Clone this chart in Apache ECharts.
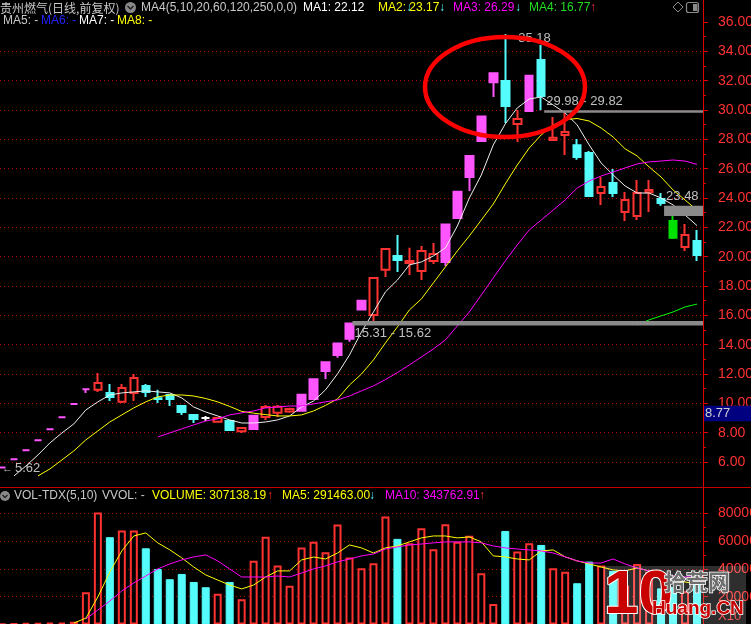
<!DOCTYPE html>
<html><head><meta charset="utf-8">
<script src="https://cdn.jsdelivr.net/npm/echarts@6/dist/echarts.min.js"></script>
<style>html,body{margin:0;padding:0;background:#000;}#c{width:751px;height:624px;}</style>
</head><body><div id="c"></div>
<script>
// ---------- data ----------
const opens = [5.62,6.18,6.80,7.48,8.23,9.05,9.96,10.96,10.92,10.71,
 10.10,10.71,11.19,10.35,10.57,9.82,9.21,9.00,8.75,8.80,
 8.10,8.25,9.07,9.35,9.45,9.50,10.30,12.20,13.30,14.40,
 16.40,16.03,19.10,20.05,19.57,19.03,19.70,19.64,22.64,25.43,
 27.89,31.90,31.98,29.05,29.93,33.41,27.95,28.30,27.60,27.07,
 24.34,25.02,23.05,22.78,24.40,23.93,22.43,20.66,21.07];
const closes = [5.62,6.18,6.80,7.48,8.23,9.05,9.96,10.96,11.39,10.44,
 11.05,11.73,10.78,10.30,10.30,9.41,8.94,9.00,9.00,8.19,
 8.32,9.15,9.75,9.76,9.62,10.58,11.64,12.80,14.08,15.45,
 17.00,18.55,20.53,19.78,19.70,20.39,20.18,22.20,24.42,26.86,
 29.55,32.50,30.27,29.39,32.33,30.96,28.10,28.50,26.80,24.14,
 24.75,24.34,23.87,24.34,24.55,23.66,21.29,21.48,20.12];
const lows = [5.62,6.18,6.80,7.48,8.23,9.05,9.96,10.70,10.78,10.16,
 10.03,10.16,10.44,10.03,9.82,9.21,8.66,8.80,8.70,8.12,
 7.98,8.20,8.87,9.07,9.35,9.50,10.30,11.66,13.10,14.20,
 16.40,15.60,18.62,18.96,18.75,18.41,19.50,19.37,22.60,24.48,
 27.89,30.89,29.11,27.82,29.90,29.98,27.95,26.93,26.60,24.07,
 23.53,24.07,22.43,22.50,23.05,23.48,21.20,20.39,19.71];
const highs = [5.62,6.18,6.80,7.48,8.23,9.05,9.96,10.96,12.07,11.32,
 11.32,12.00,11.32,10.92,10.60,9.85,9.21,9.14,9.02,8.85,
 8.35,9.15,9.89,9.89,9.70,10.58,11.64,12.80,14.08,15.45,
 17.00,18.60,20.55,21.48,20.60,20.73,20.94,22.20,24.42,26.86,
 29.55,32.50,35.18,30.00,32.33,34.43,29.52,29.82,28.02,27.20,
 25.43,25.98,24.41,25.23,25.23,24.34,22.78,22.23,21.82];
const limitUpDays = [0,1,2,3,4,5,6,7,21,25,26,27,28,29,30,37,38,39,40,41,44];
const limitDownDays = [56];

const ma1 = [null,5.05,5.73,6.48,7.30,7.98,8.60,9.55,10.10,10.57,
 10.71,10.78,10.85,10.78,10.71,10.37,9.75,9.41,9.14,8.87,
 8.66,8.66,8.73,8.87,9.14,9.75,10.16,10.92,12.01,13.30,
 14.87,16.23,17.60,18.41,19.44,19.64,20.05,20.59,22.09,24.00,
 25.57,27.62,29.05,30.14,30.75,30.89,30.34,29.80,28.98,27.62,
 26.39,25.57,24.82,24.34,24.34,24.00,23.53,22.84,22.12];
const ma2 = [null,null,null,5.05,5.53,6.14,6.76,7.51,8.12,8.73,
 9.21,9.69,10.10,10.44,10.57,10.57,10.50,10.33,10.10,9.79,
 9.45,9.33,9.23,9.14,9.14,9.21,9.48,9.86,10.30,11.25,
 12.00,12.96,14.12,15.21,16.37,17.12,18.21,19.30,20.39,21.41,
 22.50,23.59,24.96,26.25,27.41,28.30,28.98,29.35,29.42,29.25,
 28.77,28.16,27.35,26.87,26.12,25.43,24.55,23.87,23.17];
const ma3 = [null,null,null,null,null,null,null,null,null,null,
 null,null,null,7.71,7.98,8.26,8.53,8.80,8.94,9.21,
 9.35,9.48,9.69,9.75,9.82,9.82,9.96,10.10,10.23,10.50,
 10.85,11.19,11.62,12.10,12.62,13.16,13.71,14.32,15.28,16.23,
 17.39,18.55,19.71,20.80,21.82,22.50,23.18,23.87,24.68,25.16,
 25.50,25.77,26.05,26.32,26.46,26.52,26.59,26.52,26.29];
const ma4 = [null,null,null,null,null,null,null,null,null,null,
 null,null,null,null,null,null,null,null,null,null,
 null,null,null,null,null,null,null,null,null,null,
 null,null,null,null,null,null,null,null,null,null,
 null,null,null,null,null,null,null,null,null,null,
 null,null,null,15.34,15.69,15.96,16.23,16.57,16.77];

const volumes = [300,500,1100,1100,1200,1200,1900,23200,83800,62900,
 67700,67700,54900,40000,32600,36400,30600,26800,22200,30600,
 18100,46000,63300,42400,27900,55400,59700,52000,72000,48200,
 40500,44100,77800,61700,58500,69400,54200,72300,59700,64000,
 36900,14700,67400,52500,58500,57300,40500,38000,29700,45300,
 42400,38600,28100,43600,38000,26000,27000,24000,30714];
const volMa5 = [null,null,null,null,null,null,1000,4500,19800,37800,
 53000,63800,66000,58800,53800,48000,41400,35700,32000,28400,
 25600,28400,34200,38600,38600,46500,48600,47200,51500,57300,
 55200,51500,55200,56600,59500,62400,63800,63800,62400,63100,
 59500,49400,48700,47200,46500,53000,53700,48700,45800,43600,
 41400,39300,38600,40700,38600,34900,32000,30600,29146];
const volMa10 = [null,null,null,null,null,null,null,3900,10400,16900,
 24100,29900,34900,40000,43600,46500,48700,50100,45800,40000,
 34200,34200,34200,34900,34200,37100,40000,42200,45100,47200,
 49400,50800,54400,55900,57300,58000,58800,59500,59500,59500,
 58800,56600,55200,54400,53700,53000,51500,48700,45800,44300,
 44300,47200,43600,40700,38600,36400,34900,34200,34376];

const priceTicks = [6, 36, 2];          // min, max, step
const volTicks = [0, 80000, 20000];
const maHeader = [22.12, 23.17, 26.29, 16.77];
const volHeader = ['307138.19', '291463.00', '343762.91'];
const gapLow = [15.31, 29.82, 22.78];
const gapHigh = [15.62, 29.98, 23.48];
const gapFrom = [29, 45, 55];
const gapLabel = ['15.31 - 15.62', '29.98 - 29.82', '23.48'];
const gapLabelSide = ['below', 'above', 'above'];
const cursorPrice = 8.77;

// ---------- styles ----------
const RED = '#FF3232', CYAN = '#54FCFC', PINK = '#FF55FF', GREEN = '#00E000', WHITE = '#FFFFFF';
const AX = '#E00000', LBL = '#FF3232', GRAY = '#C0C0C0';
const NARROW = "'Liberation Sans Narrow','Liberation Sans',sans-serif";
const SANS = "'Liberation Sans',sans-serif";
const CJK = "'Noto Sans CJK SC',sans-serif";

const N = opens.length;
const days = Array.from({length: N}, (_, i) => 'D' + (i + 1));

function kind(i) {
  if (limitUpDays.includes(i)) return 'lu';
  if (limitDownDays.includes(i)) return 'ld';
  if (closes[i] > opens[i]) return 'up';
  if (closes[i] < opens[i]) return 'dn';
  return 'doji';
}
const kFill = {lu: PINK, ld: GREEN, up: '#000000', dn: CYAN, doji: WHITE};
const kLine = {lu: PINK, ld: GREEN, up: RED, dn: CYAN, doji: WHITE};

const candleData = opens.map((o, i) => {
  const k = kind(i);
  return {value: [o, closes[i], lows[i], highs[i]],
    itemStyle: {color: kFill[k], color0: kFill[k], borderColor: kLine[k], borderColor0: kLine[k], borderColorDoji: kLine[k]}};
});
const volData = volumes.map((v, i) => {
  const k = kind(i);
  const redBar = (k === 'lu' || k === 'up');
  return {value: v, itemStyle: redBar
    ? {color: '#000000', borderColor: RED, borderWidth: 2}
    : {color: CYAN, borderColor: CYAN, borderWidth: 1}};
});

const splitDots = {color: '#B00000', width: 1, type: [1, 3]};

const chart = echarts.init(document.getElementById('c'));
const option = {
  backgroundColor: '#000000',
  animation: false,
  grid: [
    {left: -4, right: 48, top: 22, height: 440, outerBoundsMode: 'none'},
    {left: -4, right: 48, top: 513.5, height: 110.9, outerBoundsMode: 'none'}
  ],
  xAxis: [
    {type: 'category', data: days, gridIndex: 0, show: false, boundaryGap: true},
    {type: 'category', data: days, gridIndex: 1, show: false, boundaryGap: true}
  ],
  yAxis: [
    {type: 'value', gridIndex: 0, position: 'right', min: priceTicks[0], max: priceTicks[1], interval: priceTicks[2],
     axisLine: {show: false},
     axisTick: {show: true, length: 5, lineStyle: {color: AX}},
     minorTick: {show: true, splitNumber: 2, length: 3, lineStyle: {color: AX}},
     axisLabel: {color: LBL, fontSize: 14, fontFamily: NARROW, margin: 15, showMinLabel: true, showMaxLabel: true,
       formatter: v => v.toFixed(2)},
     splitLine: {show: true, showMaxLine: false, showMinLine: true, lineStyle: splitDots}},
    {type: 'value', gridIndex: 1, position: 'right', min: volTicks[0], max: volTicks[1], interval: volTicks[2],
     axisLine: {show: false},
     axisTick: {show: true, length: 5, lineStyle: {color: AX}},
     minorTick: {show: true, splitNumber: 2, length: 3, lineStyle: {color: AX}},
     axisLabel: {color: LBL, fontSize: 14, fontFamily: NARROW, margin: 15, showMinLabel: false, showMaxLabel: true,
       formatter: v => String(v)},
     splitLine: {show: true, showMaxLine: true, showMinLine: false, lineStyle: splitDots}}
  ],
  series: [
    {type: 'candlestick', xAxisIndex: 0, yAxisIndex: 0, data: candleData, barWidth: 8, clip: false,
     itemStyle: {borderWidth: 2}},
    {type: 'line', xAxisIndex: 0, yAxisIndex: 0, data: ma1, showSymbol: false, clip: false, connectNulls: false,
     lineStyle: {color: '#EEEEEE', width: 1}},
    {type: 'line', xAxisIndex: 0, yAxisIndex: 0, data: ma2, showSymbol: false, clip: false,
     lineStyle: {color: '#FFFF00', width: 1}},
    {type: 'line', xAxisIndex: 0, yAxisIndex: 0, data: ma3, showSymbol: false, clip: false,
     lineStyle: {color: '#FF00FF', width: 1}},
    {type: 'line', xAxisIndex: 0, yAxisIndex: 0, data: ma4, showSymbol: false, clip: false,
     lineStyle: {color: '#00FF00', width: 1}},
    {type: 'bar', xAxisIndex: 1, yAxisIndex: 1, data: volData, barWidth: 8},
    {type: 'line', xAxisIndex: 1, yAxisIndex: 1, data: volMa5, showSymbol: false,
     lineStyle: {color: '#FFFF00', width: 1}},
    {type: 'line', xAxisIndex: 1, yAxisIndex: 1, data: volMa10, showSymbol: false,
     lineStyle: {color: '#FF00FF', width: 1}}
  ]
};
chart.setOption(option);

// ---------- annotations ----------
const P = (i, v) => chart.convertToPixel({gridIndex: 0}, [i, v]);
const g = [];
function txt(t, x, y, fill, font, extra) {
  g.push(Object.assign({type: 'text', z: 50, silent: true,
    style: Object.assign({text: t, x: x, y: y, fill: fill, font: font,
      align: 'left', verticalAlign: 'middle', textAlign: 'left', textVerticalAlign: 'middle'}, extra || {})}));
}
const axisX = P(0, 0)[0] + 0; // placeholder
const rightEdge = 751 - 48;

// separators
g.push({type: 'line', z: 40, silent: true, shape: {x1: rightEdge + 0.5, y1: 0, x2: rightEdge + 0.5, y2: 624}, style: {stroke: AX, lineWidth: 1}});
g.push({type: 'line', z: 40, silent: true, shape: {x1: 0, y1: 487.5, x2: 751, y2: 487.5}, style: {stroke: '#C80000', lineWidth: 1}});

// gap bands
for (let k = 0; k < gapLow.length; k++) {
  const a = P(gapFrom[k], gapHigh[k]);
  const b = P(gapFrom[k], gapLow[k]);
  const x0 = a[0] + 3;
  const h = Math.max(2.5, b[1] - a[1]);
  g.push({type: 'rect', z: 30, silent: true, shape: {x: x0, y: a[1], width: rightEdge - x0, height: h}, style: {fill: '#8A8A8A'}});
  const ly = gapLabelSide[k] === 'above' ? a[1] - 9 : a[1] + h + 8;
  txt(gapLabel[k], x0 + 2, ly, GRAY, '13px ' + NARROW);
}

// high / low markers
let hiI = 0, loI = 0;
highs.forEach((v, i) => { if (v > highs[hiI]) hiI = i; });
lows.forEach((v, i) => { if (v < lows[loI]) loI = i; });
const hp = P(hiI, highs[hiI]);
txt(highs[hiI].toFixed(2), hp[0] + 13, hp[1] + 4, GRAY, '13px ' + NARROW);
const lp = P(loI, lows[loI]);
txt('\u2190', lp[0], lp[1] + 1, GRAY, '11px ' + SANS);
txt(lows[loI].toFixed(2), lp[0] + 13, lp[1] + 1, GRAY, '13px ' + NARROW);

// cursor price box
const cp = P(0, cursorPrice);
g.push({type: 'rect', z: 45, silent: true, shape: {x: rightEdge + 1, y: cp[1] - 15.5, width: 48, height: 15.3}, style: {fill: '#000080'}});
txt(cursorPrice.toFixed(2), rightEdge + 2, cp[1] - 7.8, '#D0D0D0', '13px ' + NARROW, {});

// red ellipse
g.push({type: 'ellipse', z: 60, silent: true, shape: {cx: 505, cy: 87, rx: 80, ry: 50}, style: {fill: null, stroke: '#FF0000', lineWidth: 4.5}});

// header line 1
txt('贵州燃气(日线,前复权)', 0, 8, '#C8C8C8', '12px ' + CJK);
g.push({type: 'circle', z: 50, silent: true, shape: {cx: 130.5, cy: 7.5, r: 5.5}, style: {fill: '#8A8A8A'}});
g.push({type: 'polyline', z: 51, silent: true, shape: {points: [[127.5, 6], [130.5, 9], [133.5, 6]]}, style: {stroke: '#202020', lineWidth: 1.5, fill: null}});
txt('MA4(5,10,20,60,120,250,0,0)', 141, 8, '#C8C8C8', '12px ' + SANS);
txt('MA1: ' + maHeader[0].toFixed(2), 303, 8, '#FFFFFF', '12px ' + SANS);
txt('\u2193', 406, 8, CYAN, '12px ' + SANS);
txt('MA2: ' + maHeader[1].toFixed(2), 378, 8, '#FFFF00', '12px ' + SANS);
txt('\u2193', 439, 8, CYAN, '12px ' + SANS);
txt('MA3: ' + maHeader[2].toFixed(2), 453, 8, '#FF00FF', '12px ' + SANS);
txt('\u2193', 515, 8, CYAN, '12px ' + SANS);
txt('MA4: ' + maHeader[3].toFixed(2), 529, 8, '#22DD22', '12px ' + SANS);
txt('\u2191', 590, 8, RED, '12px ' + SANS);
g.push({type: 'polygon', z: 50, silent: true, shape: {points: [[678, 2], [683, 7], [678, 12], [673, 7]]}, style: {stroke: '#8A8A8A', fill: null, lineWidth: 1}});
g.push({type: 'rect', z: 50, silent: true, shape: {x: 686.5, y: 2.5, width: 12, height: 10, r: 2}, style: {stroke: '#8A8A8A', fill: null, lineWidth: 1.2}});
g.push({type: 'rect', z: 50, silent: true, shape: {x: 693, y: 4, width: 4.5, height: 7}, style: {fill: '#8A8A8A'}});
// header line 2
txt('MA5: -', 3, 21, '#C8C8C8', '12px ' + SANS);
txt('MA6: -', 41, 21, '#2020FF', '12px ' + SANS);
txt('MA7: -', 79, 21, '#FFFFFF', '12px ' + SANS);
txt('MA8: -', 117, 21, '#FFFF00', '12px ' + SANS);
// volume header
g.push({type: 'circle', z: 50, silent: true, shape: {cx: 5, cy: 496, r: 5}, style: {fill: '#8A8A8A'}});
g.push({type: 'polyline', z: 51, silent: true, shape: {points: [[2.5, 495], [5, 497.5], [7.5, 495]]}, style: {stroke: '#202020', lineWidth: 1.3, fill: null}});
txt('VOL-TDX(5,10)', 14, 496, '#C8C8C8', '12px ' + SANS);
txt('VVOL: -', 102, 496, '#C8C8C8', '12px ' + SANS);
txt('VOLUME: ' + volHeader[0], 152, 496, '#FFFF00', '12px ' + SANS);
txt('\u2191', 267, 496, RED, '12px ' + SANS);
txt('MA5: ' + volHeader[1], 282, 496, '#FFFF00', '12px ' + SANS);
txt('\u2193', 369, 496, CYAN, '12px ' + SANS);
txt('MA10: ' + volHeader[2], 385, 496, '#FF00FF', '12px ' + SANS);
txt('\u2191', 479, 496, RED, '12px ' + SANS);
txt('X10', 718, 616, LBL, '13px ' + NARROW);

// watermark
g.push({type: 'rect', z: 70, silent: true, shape: {x: 604, y: 566, width: 142, height: 58}, style: {fill: 'rgba(255,255,255,0.18)'}});
txt('10', 604, 596, '#C80000', "bold 62px 'Liberation Sans Narrow','Liberation Sans'", {stroke: '#FFFFFF', lineWidth: 2});
g[g.length - 1].z = 71;
txt('拾荒网', 664, 582, '#6E6E6E', "bold 22px 'Noto Sans CJK SC'", {stroke: '#FFFFFF', lineWidth: 1.5});
g[g.length - 1].z = 71;
txt('Huang.CN', 652, 609, '#C80000', "bold 19px 'Liberation Sans'", {stroke: '#FFFFFF', lineWidth: 1.5});
g[g.length - 1].z = 71;

chart.setOption({graphic: g});
</script>
</body></html>
